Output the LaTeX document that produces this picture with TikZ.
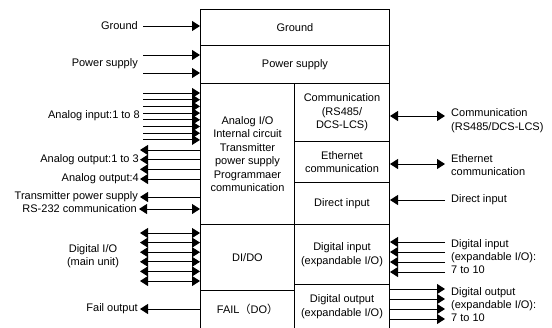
\documentclass[tikz,border=0pt]{standalone}
\usepackage{fontspec}
\setmainfont{Liberation Sans}
\newfontfamily\cjkfont{Noto Sans CJK SC}
\usetikzlibrary{arrows.meta}
\begin{document}
\begin{tikzpicture}[x=1pt,y=-1pt,
  every node/.style={font=\fontsize{11}{13.4}\selectfont},
  cell/.style={draw, line width=1pt, anchor=north west, inner sep=0pt, align=center},
  lab/.style={inner sep=0pt, align=left},
  sig/.style={line width=1pt, -{Triangle[length=8pt,width=10pt]}},
  bisig/.style={line width=1pt, {Triangle[length=8pt,width=10pt]}-{Triangle[length=8pt,width=10pt]}}]
\useasboundingbox (0,0) rectangle (552,327);
\fill[white] (0,0) rectangle (552,327);

% cells of the unit
\node[cell, minimum width=189pt, minimum height=36pt] (ground) at (200,9) {Ground};
\node[cell, minimum width=189pt, minimum height=38pt] (power) at (200,45) {Power supply};
\node[cell, minimum width=94pt, minimum height=141pt] (analog) at (200,83)
  {Analog I/O\\Internal circuit\\Transmitter\\power supply\\Programmaer\\communication};
\node[cell, minimum width=95pt, minimum height=58pt] (comm) at (294,83) {Communication\\(RS485/\\DCS-LCS)};
\node[cell, minimum width=95pt, minimum height=41pt] (eth) at (294,141) {Ethernet\\communication};
\node[cell, minimum width=95pt, minimum height=42pt] (direct) at (294,182) {Direct input};
\node[cell, minimum width=94pt, minimum height=66pt] (dido) at (200,224) {DI/DO};
\node[cell, minimum width=94pt, minimum height=38pt] (fail) at (200,290) {FAIL{\cjkfont（}DO{\cjkfont）}};
\node[cell, minimum width=95pt, minimum height=60pt] (dinx) at (294,224) {Digital input\\(expandable I/O)};
\node[cell, minimum width=95pt, minimum height=44pt] (doutx) at (294,284) {Digital output\\(expandable I/O)};

% left labels
\node[lab, anchor=east] (gL) at (138,26) {Ground};
\node[lab, anchor=east] (pL) at (138,64) {Power supply};
\node[lab, anchor=east] (aiL) at (140,116) {Analog input:1 to 8};
\node[lab, anchor=east] (aoL) at (139,160) {Analog output:1 to 3};
\node[lab, anchor=east] (ao4L) at (139,179) {Analog output:4};
\node[lab, anchor=east] (tpL) at (138,197) {Transmitter power supply};
\node[lab, anchor=east] (rsL) at (137,209) {RS-232 communication};
\node[lab, align=center] (dioL) at (93,256) {Digital I/O\\(main unit)};
\node[lab, anchor=east] (failL) at (138,309) {Fail output};

% right labels
\node[lab, anchor=west] (commL) at (451,120.5) {Communication\\(RS485/DCS-LCS)};
\node[lab, anchor=west] (ethL) at (451,165) {Ethernet\\communication};
\node[lab, anchor=west] (diL) at (451,200) {Direct input};
\node[lab, anchor=west] (dinL) at (451,256.5) {Digital input\\(expandable I/O):\\7 to 10};
\node[lab, anchor=west] (doutL) at (451,304.5) {Digital output\\(expandable I/O):\\7 to 10};

% left connectors
\coordinate (g1) at (143,26);
\draw[sig] (g1) -- (g1 -| ground.west);
\foreach \yy [count=\i] in {55,73} {
  \coordinate (p\i) at (143,\yy);
  \draw[sig] (p\i) -- (p\i -| power.west);
}
\foreach \yy [count=\i] in {93,99.7,106.4,113.1,119.8,126.5,133.2,139.9} {
  \coordinate (ai\i) at (143,\yy);
  \draw[sig] (ai\i) -- (ai\i -| analog.west);
}
\foreach \yy [count=\i] in {150,159.7,169.3,179,197} {
  \coordinate (ao\i) at (140,\yy);
  \draw[sig] (ao\i -| analog.west) -- (ao\i);
}
\coordinate (rs) at (139,209);
\draw[bisig] (rs) -- (rs -| analog.west);
\foreach \yy [count=\i] in {233,242.6,252.2,261.8,271.4,281} {
  \coordinate (dio\i) at (140,\yy);
  \draw[bisig] (dio\i) -- (dio\i -| dido.west);
}
\coordinate (fo) at (140,309);
\draw[sig] (fo -| fail.west) -- (fo);

% right connectors
\coordinate (cm) at (445,116);
\draw[bisig] (cm -| comm.east) -- (cm);
\coordinate (et) at (445,164);
\draw[bisig] (et -| eth.east) -- (et);
\coordinate (dr) at (445,200);
\draw[sig] (dr) -- (dr -| direct.east);
\foreach \yy [count=\i] in {242,252,262,272} {
  \coordinate (dn\i) at (445,\yy);
  \draw[sig] (dn\i) -- (dn\i -| dinx.east);
}
\foreach \yy [count=\i] in {289,299,309,319} {
  \coordinate (dt\i) at (445,\yy);
  \draw[sig] (dt\i -| doutx.east) -- (dt\i);
}
\end{tikzpicture}
\end{document}
